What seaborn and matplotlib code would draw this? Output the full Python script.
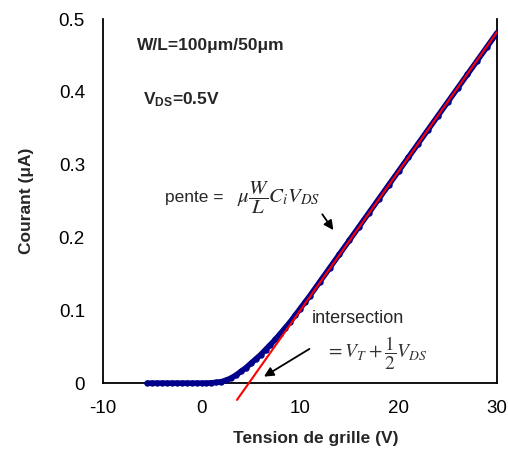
import numpy as np
import pandas as pd
import matplotlib
matplotlib.use("Agg")
import matplotlib.pyplot as plt
import seaborn as sns

# measured transfer curve (gate voltage V, current uA)
vg = [-5.5, -5.0, -4.5, -4.0, -3.5, -3.0, -2.5, -2.0, -1.5, -1.0, -0.5, 0.0,
      0.5, 1.0, 1.5, 2.0, 2.5, 3.0, 3.5, 4.0, 4.5, 5.0, 5.5, 6.0, 6.5, 7.0,
      7.5, 8.0, 8.5, 9.0, 9.5, 10.0, 10.5, 11.0, 12.0, 13.0, 14.0, 15.0,
      16.0, 17.0, 18.0, 19.0, 20.0, 21.0, 22.0, 23.0, 24.0, 25.0, 26.0,
      27.0, 28.0, 29.0, 30.0]
current = [0.0, 0.0, 0.0, 0.0, 0.0, 0.0, 0.0, 0.0, 0.0, 0.0, 0.0, 0.0,
           0.0, 0.0005, 0.001, 0.002, 0.004, 0.007, 0.011, 0.016, 0.021,
           0.027, 0.033, 0.039, 0.046, 0.053, 0.060, 0.068, 0.076, 0.084,
           0.093, 0.102, 0.111, 0.120, 0.139, 0.158, 0.177, 0.196, 0.215,
           0.234, 0.253, 0.272, 0.291, 0.310, 0.329, 0.348, 0.367, 0.386,
           0.405, 0.424, 0.443, 0.462, 0.481]

# linear fit of the strong inversion region
fit_vg = [3.6, 30.0]
fit_current = [-0.023, 0.482]

x_ticks = [-10, 0, 10, 20, 30]
y_ticks = [0, 0.1, 0.2, 0.3, 0.4, 0.5]
y_tick_labels = ["0", "0.1", "0.2", "0.3", "0.4", "0.5"]

sns.set_style("white")
plt.rcParams["font.family"] = ["Liberation Sans", "DejaVu Sans"]
plt.rcParams["axes.unicode_minus"] = False
plt.rcParams["mathtext.fontset"] = "custom"
plt.rcParams["mathtext.rm"] = "Liberation Sans"
plt.rcParams["mathtext.bf"] = "Liberation Sans:bold"
plt.rcParams["mathtext.it"] = "Liberation Sans:italic"

df = pd.DataFrame({"vg": vg, "i": current})
df_fit = pd.DataFrame({"vg": fit_vg, "i": fit_current})

fig = plt.figure(figsize=(5.08, 4.5), dpi=100)
ax = fig.add_axes([103 / 508, 1 - 405 / 450, (497 - 103) / 508, (405 - 19) / 450])

sns.lineplot(data=df, x="vg", y="i", ax=ax, color="#00008B", lw=4.0,
             marker="o", markersize=4.6, markeredgewidth=0, zorder=3)
sns.lineplot(data=df_fit, x="vg", y="i", ax=ax, color="red", lw=1.5, zorder=4)

ax.set_xlim(-10, 30)
ax.set_ylim(-0.03, 0.5)

# excel-like axes: x axis crossing at 0, spines only over the 0..0.5 range
ax.spines["bottom"].set_position(("data", 0))
ax.spines["top"].set_visible(False)
for s in ["left", "right"]:
    ax.spines[s].set_bounds(0, 0.5)
for s in ["left", "right", "bottom"]:
    ax.spines[s].set_color("black")
    ax.spines[s].set_linewidth(1.3)
ax.spines["bottom"].set_zorder(2)

ax.set_xticks(x_ticks)
ax.set_yticks(y_ticks)
ax.set_yticklabels(y_tick_labels)
ax.tick_params(axis="both", direction="in", length=4, width=1, labelsize=13.5,
               colors="black")
ax.tick_params(axis="x", pad=12)
ax.tick_params(axis="y", pad=13)

ax.set_xlabel("")
ax.set_ylabel("")
fig.text(316 / 508, 1 - 438 / 450, "Tension de grille (V)", ha="center",
         va="center", fontsize=12.5, fontweight="bold")
fig.text(27 / 508, 1 - 201 / 450, "Courant (\u03bcA)", ha="center", va="center",
         rotation=90, fontsize=12.5, fontweight="bold")

# annotations
ax.text(-6.55, 0.463, "W/L=100\u03bcm/50\u03bcm", ha="left", va="center",
        fontsize=12.5, fontweight="bold")
ax.text(-5.9, 0.389, r"$\mathbf{V}_{\mathbf{DS}}$" + "=0.5V", ha="left",
        va="center", fontsize=12.5, fontweight="bold")
ax.text(-3.7, 0.255, "pente =", ha="left", va="center", fontsize=12.5)
ax.text(3.6, 0.255, r"$\mu\dfrac{W}{L}C_iV_{DS}$", ha="left", va="center",
        fontsize=15, math_fontfamily="stix")
ax.text(11.2, 0.089, "intersection", ha="left", va="center", fontsize=13)
ax.text(12.6, 0.041, r"$=V_T+\dfrac{1}{2}V_{DS}$", ha="left", va="center",
        fontsize=14, math_fontfamily="stix", color="#333333")

ax.annotate("", xy=(13.55, 0.207), xytext=(12.1, 0.235),
            arrowprops=dict(arrowstyle="-|>", color="black", lw=1.3,
                            mutation_scale=14))
ax.annotate("", xy=(6.1, 0.007), xytext=(11.2, 0.049),
            arrowprops=dict(arrowstyle="-|>", color="black", lw=1.3,
                            mutation_scale=14))

fig.savefig("out.png", dpi=100)
